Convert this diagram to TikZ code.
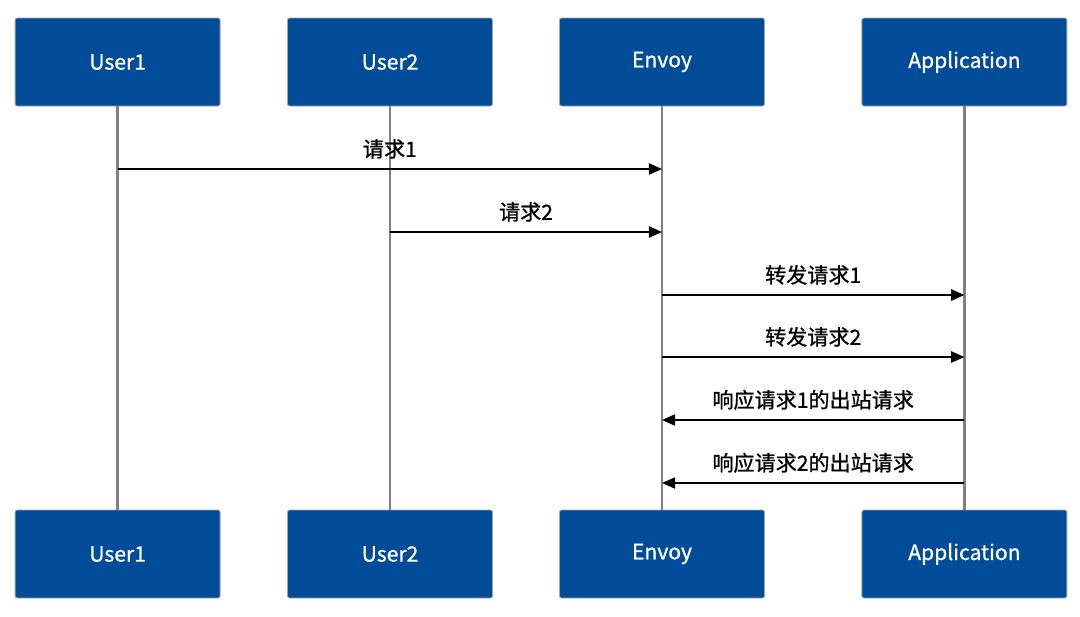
\documentclass[tikz,border=0pt]{standalone}
\usepackage{fontspec}
\setmainfont{Noto Sans CJK SC}[FakeBold=0.9]
\usetikzlibrary{arrows.meta, positioning, calc}
\definecolor{actorblue}{RGB}{0,76,153}
\definecolor{lifegray}{RGB}{128,128,128}

\begin{document}
\begin{tikzpicture}[
  actor/.style={draw=gray!70, line width=0.6pt, rectangle, rounded corners=1.5pt, fill=actorblue,
    minimum width=5.125cm, minimum height=2.2cm, text=white, font=\fontsize{15}{18}\selectfont},
  lifeline/.style={draw=lifegray, line width=2pt},
  msg/.style={draw=black, line width=1.3pt, -{Triangle[length=0.33cm,width=0.28cm]}},
  msglabel/.style={above=0.12cm, font=\fontsize{15}{18}\selectfont}
]
  \useasboundingbox (0,0) rectangle (27,-15.4);

  % participants, top row
  \node[actor] (user1) at (2.94,-1.55) {User1};
  \node[actor] (user2) at (9.75,-1.55) {User2};
  \node[actor] (envoy) at (16.55,-1.55) {Envoy};
  \node[actor] (app) at (24.11,-1.55) {Application};

  % participants, bottom row
  \node[actor] (user1b) at (2.94,-13.85) {User1};
  \node[actor] (user2b) at (9.75,-13.85) {User2};
  \node[actor] (envoyb) at (16.55,-13.85) {Envoy};
  \node[actor] (appb) at (24.11,-13.85) {Application};

  % lifelines
  \draw[lifeline] (user1) -- (user1b);
  \draw[lifeline] (user2) -- (user2b);
  \draw[lifeline] (envoy) -- (envoyb);
  \draw[lifeline] (app) -- (appb);

  % messages
  \draw[msg] (user1 |- 0,-4.225) -- (envoy |- 0,-4.225) node[msglabel, midway] {请求1};
  \draw[msg] (user2 |- 0,-5.8) -- (envoy |- 0,-5.8) node[msglabel, midway] {请求2};
  \draw[msg] (envoy |- 0,-7.375) -- (app |- 0,-7.375) node[msglabel, midway] {转发请求1};
  \draw[msg] (envoy |- 0,-8.925) -- (app |- 0,-8.925) node[msglabel, midway] {转发请求2};
  \draw[msg] (app |- 0,-10.5) -- (envoy |- 0,-10.5) node[msglabel, midway] {响应请求1的出站请求};
  \draw[msg] (app |- 0,-12.075) -- (envoy |- 0,-12.075) node[msglabel, midway] {响应请求2的出站请求};
\end{tikzpicture}
\end{document}
